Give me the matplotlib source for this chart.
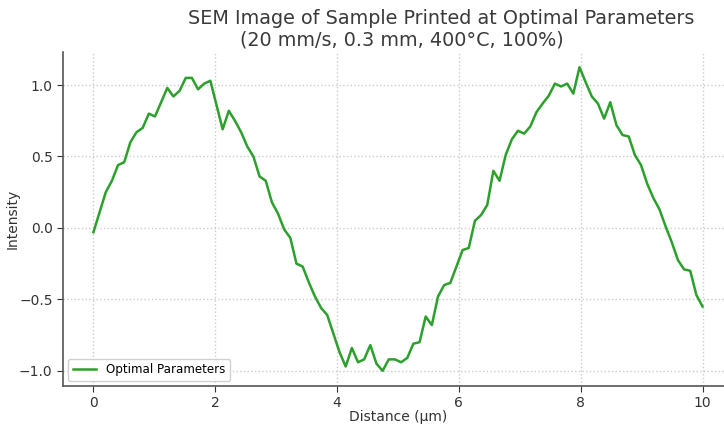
import matplotlib.pyplot as plt
import numpy as np

# distance samples (µm) and intensity
distance_um = np.linspace(0, 10, 100)
intensity = [
    -0.03, 0.11, 0.25, 0.33, 0.44, 0.46, 0.60, 0.67, 0.70, 0.80,
    0.78, 0.88, 0.98, 0.92, 0.96, 1.05, 1.05, 0.97, 1.01, 1.03,
    0.86, 0.69, 0.82, 0.75, 0.67, 0.57, 0.50, 0.36, 0.33, 0.18,
    0.10, -0.01, -0.07, -0.25, -0.27, -0.38, -0.48, -0.56, -0.61, -0.74,
    -0.87, -0.97, -0.84, -0.94, -0.92, -0.82, -0.95, -1.00, -0.92, -0.92,
    -0.94, -0.91, -0.81, -0.80, -0.62, -0.68, -0.48, -0.40, -0.385, -0.27,
    -0.155, -0.14, 0.05, 0.09, 0.16, 0.40, 0.33, 0.51, 0.62, 0.68,
    0.66, 0.71, 0.81, 0.87, 0.925, 1.01, 0.99, 1.01, 0.94, 1.125,
    1.02, 0.92, 0.87, 0.765, 0.88, 0.72, 0.65, 0.64, 0.51, 0.44,
    0.31, 0.21, 0.13, 0.01, -0.10, -0.225, -0.29, -0.30, -0.47, -0.55,
]
series_label = "Optimal Parameters"
title_line1 = "SEM Image of Sample Printed at Optimal Parameters"
title_line2 = "(20 mm/s, 0.3 mm, 400°C, 100%)"
x_ticks = [0, 2, 4, 6, 8, 10]
y_ticks = [-1.0, -0.5, 0.0, 0.5, 1.0]

W, H = 724, 426
fig = plt.figure(figsize=(W / 100, H / 100), dpi=100)
# the reference is cropped on the right, so the axes run past the figure edge
ax = fig.add_axes([63 / W, 1 - 386 / H, (733 - 63) / W, (386 - 52) / H])

ax.plot(distance_um, intensity, color="#2ca02c", linewidth=1.8, label=series_label)

ax.set_xticks(x_ticks)
ax.set_yticks(y_ticks)
ax.tick_params(labelsize=10, colors="#333333", length=4)
ax.grid(color="#cccccc", linestyle=":", linewidth=1.0)
for side in ("top", "right"):
    ax.spines[side].set_visible(False)
for side in ("left", "bottom"):
    ax.spines[side].set_color("#555555")
    ax.spines[side].set_linewidth(1.2)

ax.set_xlabel("Distance (µm)", fontsize=10, color="#333333", labelpad=0)
ax.set_ylabel("Intensity", fontsize=10, color="#333333", labelpad=-0.5)
ax.legend(loc="lower left", fontsize=8.6, framealpha=0.9, edgecolor="#cccccc",
          borderaxespad=0.4)

fig.text(441 / W, 1 - 18 / H, title_line1, ha="center", va="center", fontsize=13.8, color="#3a3a3a")
fig.text(402 / W, 1 - 40 / H, title_line2, ha="center", va="center", fontsize=13.8, color="#3a3a3a")

fig.savefig("out.png", dpi=100)
